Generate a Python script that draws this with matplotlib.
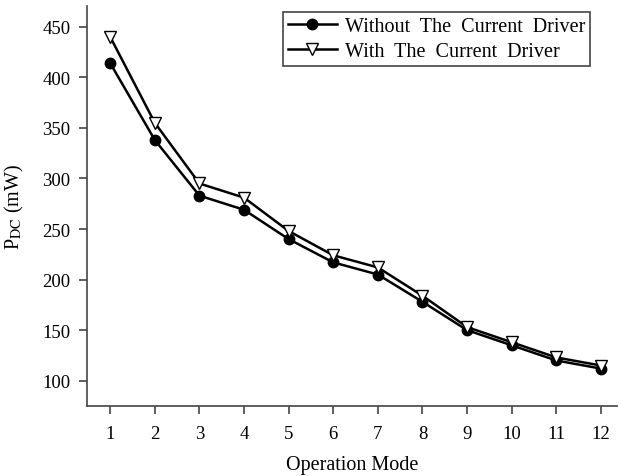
import matplotlib.pyplot as plt

# operation modes and DC power (mW)
modes = [1, 2, 3, 4, 5, 6, 7, 8, 9, 10, 11, 12]
p_without = [414, 338, 283, 269, 240, 217, 205, 178, 150, 135, 120, 112]
p_with = [440, 355, 295, 281, 248, 224, 212, 184, 153, 138, 123, 115]

plt.rcParams['font.family'] = ['Liberation Serif', 'DejaVu Serif']
plt.rcParams['mathtext.fontset'] = 'stix'

fig = plt.figure(figsize=(6.19, 4.77), dpi=100)
ax = fig.add_axes([87/619, 1-407/477, (617-87)/619, (407-7)/477])

ax.plot(modes, p_without, '-o', color='black', lw=1.8, ms=7.5,
        label='Without  The  Current  Driver')
ax.plot(modes, p_with, '-v', color='black', lw=1.8, ms=9,
        markerfacecolor='white', markeredgewidth=1.0,
        label='With  The  Current  Driver')

ax.set_xlim(0.48, 12.36)
ax.set_ylim(75, 470.5)
ax.set_xticks(modes)
ax.set_yticks([100, 150, 200, 250, 300, 350, 400, 450])

for s in ['top', 'right']:
    ax.spines[s].set_visible(False)
for s in ['left', 'bottom']:
    ax.spines[s].set_color('#444444')
    ax.spines[s].set_linewidth(1.2)
ax.tick_params(direction='out', length=6, width=1.2, color='#444444',
               labelsize=13.5, pad=6)
ax.tick_params(axis='x', pad=8)

ax.set_xlabel('Operation Mode', fontsize=14.5, labelpad=9)
ax.set_ylabel(r'P$_{\rm DC}$ (mW)', fontsize=14.5, labelpad=12)

leg = ax.legend(loc='upper right', bbox_to_anchor=(590/619, 1-13/477),
                bbox_transform=fig.transFigure, fontsize=14.5, fancybox=False,
                edgecolor='#444444', framealpha=1, handlelength=2.4,
                handletextpad=0.4, borderpad=0.25, labelspacing=0.3,
                borderaxespad=0)
leg.get_frame().set_linewidth(1.2)

fig.savefig('out.png', dpi=100)
